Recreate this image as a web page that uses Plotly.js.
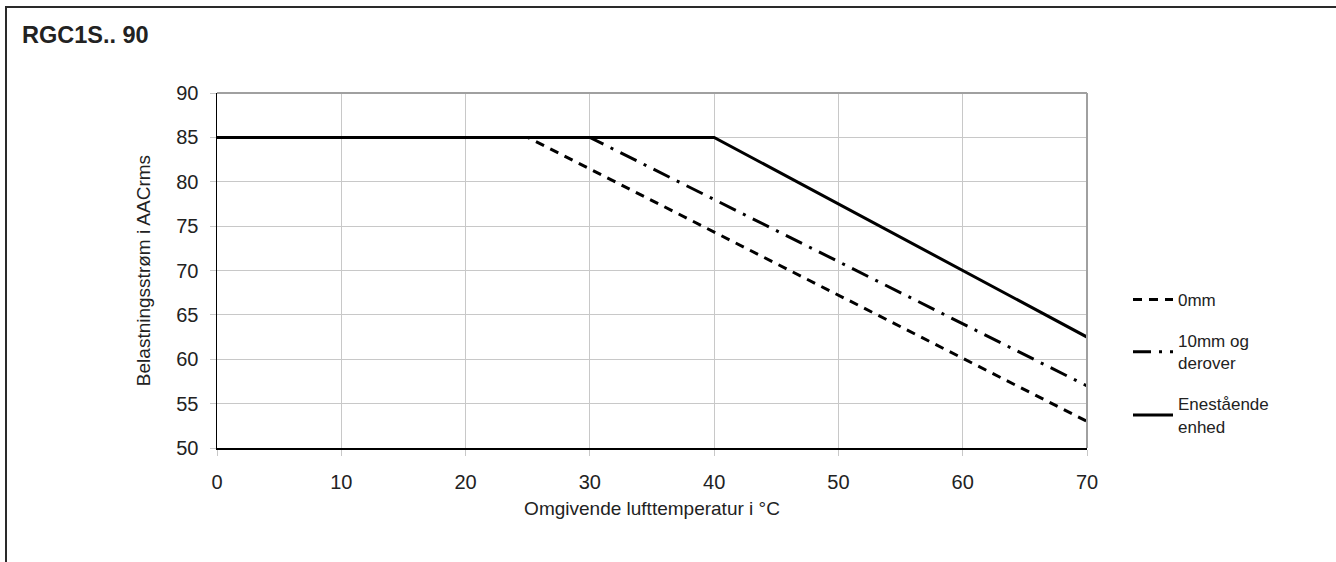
<!DOCTYPE html>
<html>
<head>
<meta charset="utf-8">
<script src="https://cdn.plot.ly/plotly-3.0.1.min.js"></script>
<style>
html,body{margin:0;padding:0;background:#fff;}
#frame{position:absolute;left:5px;top:6px;width:1329px;height:600px;border:2px solid #2a2a2a;border-bottom:none;pointer-events:none;}
#chart{position:absolute;left:0;top:0;width:1336px;height:562px;}
</style>
</head>
<body>
<div id="chart"></div>
<div id="frame"></div>
<script>
const temps0 = [0, 25, 70];
const current0 = [85, 85, 53];
const temps10 = [0, 30, 70];
const current10 = [85, 85, 57];
const tempsSolo = [0, 40, 70];
const currentSolo = [85, 85, 62.5];
const names = ["0mm", "10mm og<br>derover", "Enestående<br>enhed"];
const xTicks = [0, 10, 20, 30, 40, 50, 60, 70];
const yTicks = [50, 55, 60, 65, 70, 75, 80, 85, 90];

const L = 217, R = 1087, T = 93, B = 448;
const W = R - L, H = B - T;
const px = v => (v - L) / W;
const py = v => (B - v) / H;

const font = "Liberation Sans, Arial, Helvetica, sans-serif";

const traces = [
  {x: temps0, y: current0, name: names[0], legendgroup: "g0", mode: "lines", line: {color: "#000", width: 3, dash: "9px,7px"}},
  {x: temps10, y: current10, name: names[1], legendgroup: "g1", mode: "lines", line: {color: "#000", width: 3, dash: "18px,8px,3px,8px"}},
  {x: tempsSolo, y: currentSolo, name: names[2], legendgroup: "g2", mode: "lines", line: {color: "#000", width: 3}}
];

const layout = {
  width: 1336, height: 562,
  margin: {l: L, r: 1336 - R, t: T, b: 562 - B, pad: 0},
  paper_bgcolor: "#fff", plot_bgcolor: "#fff",
  font: {family: font, color: "#222", size: 16},
  showlegend: true,
  legend: {x: px(1128), y: py(282), xanchor: "left", yanchor: "top",
           font: {family: font, size: 17, color: "#222"},
           tracegroupgap: 16, itemwidth: 40, bgcolor: "rgba(0,0,0,0)"},
  xaxis: {range: [0, 70], tickvals: xTicks, ticktext: xTicks.map(String),
          showgrid: true, gridcolor: "#c8c8c8", gridwidth: 1,
          zeroline: false, showline: true, linecolor: "#000", linewidth: 1.5,
          ticks: "outside", ticklen: 6, tickcolor: "#c8c8c8", tickwidth: 1,
          ticklabelstandoff: 9,
          tickfont: {size: 20, color: "#222"}, fixedrange: true,
          title: {text: "Omgivende lufttemperatur i °C", font: {size: 19, color: "#222"}, standoff: 10}},
  yaxis: {range: [50, 90], tickvals: yTicks, ticktext: yTicks.map(String),
          showgrid: true, gridcolor: "#c8c8c8", gridwidth: 1,
          zeroline: false, showline: true, linecolor: "#000", linewidth: 1.5,
          ticks: "outside", ticklen: 6, tickcolor: "#c8c8c8", tickwidth: 1,
          ticklabelstandoff: 7,
          tickfont: {size: 20, color: "#222"}, fixedrange: true,
          title: {text: "Belastningsstrøm i AACrms", font: {size: 19, color: "#222"}, standoff: 20}},
  shapes: [
    {type: "line", xref: "paper", yref: "paper", x0: 0, x1: 1, y0: 1, y1: 1, line: {color: "#a0a0a0", width: 2}},
    {type: "line", xref: "paper", yref: "paper", x0: 1, x1: 1, y0: 0, y1: 1, line: {color: "#a0a0a0", width: 2}}
  ],
  annotations: [
    {text: "<b>RGC1S.. 90</b>", xref: "paper", yref: "paper", x: px(20), y: py(35),
     xanchor: "left", yanchor: "middle", showarrow: false,
     font: {family: font, size: 23.5, color: "#222"}}
  ]
};

Plotly.newPlot("chart", traces, layout, {staticPlot: true, displayModeBar: false});
</script>
</body>
</html>
